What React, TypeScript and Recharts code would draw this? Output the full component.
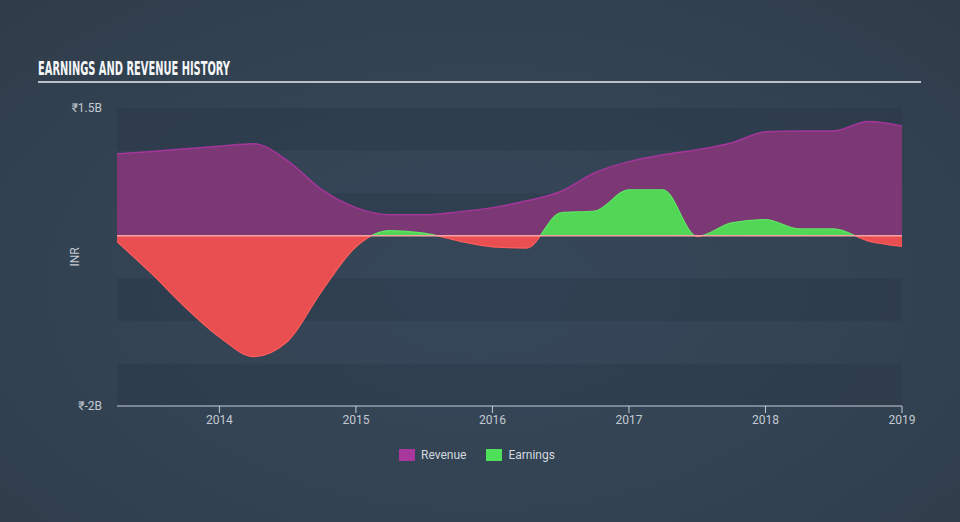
import React from 'react';
import { AreaChart, Area, XAxis, YAxis, ReferenceArea, ReferenceLine } from 'recharts';

// quarter points (fractional years), values in INR billions
const quarters = [
    2013.25, 2013.5, 2013.75, 2014.0, 2014.25, 2014.5, 2014.75, 2015.0,
    2015.25, 2015.5, 2015.75, 2016.0, 2016.25, 2016.5, 2016.75, 2017.0,
    2017.25, 2017.5, 2017.75, 2018.0, 2018.25, 2018.5, 2018.75, 2019.0
];
const revenue = [
    0.96, 0.99, 1.02, 1.05, 1.08, 0.88, 0.54, 0.33,
    0.245, 0.245, 0.28, 0.33, 0.41, 0.52, 0.74, 0.87,
    0.95, 1.01, 1.09, 1.22, 1.23, 1.23, 1.34, 1.29
];
const earnings = [
    -0.07, -0.44, -0.84, -1.19, -1.42, -1.24, -0.65, -0.13,
    0.06, 0.03, -0.06, -0.13, -0.145, 0.27, 0.29, 0.54,
    0.54, -0.01, 0.15, 0.19, 0.08, 0.08, -0.06, -0.125
];
const yearTicks = [2014, 2015, 2016, 2017, 2018, 2019];
const valueTicks = [-2, 1.5];
const darkBands = [[1, 1.5], [0, 0.5], [-1, -0.5], [-2, -1.5]];
const legendItems = [
    { name: 'Revenue', color: '#a8389b' },
    { name: 'Earnings', color: '#4fe05a' }
];

const data = quarters.map((t, i) => ({ t, revenue: revenue[i], earnings: earnings[i] }));

const eMax = Math.max(...earnings);
const eMin = Math.min(...earnings);
const zeroOffset = eMax / (eMax - eMin);

const labelColor = '#c3cad1';

export default function App() {
    return (
        <div
            style={{
                position: 'absolute',
                left: 0,
                top: 0,
                width: 960,
                height: 522,
                overflow: 'hidden',
                fontFamily: 'Roboto, "Open Sans", sans-serif',
                background: 'radial-gradient(ellipse at 50% 55%, #36475a 0%, #334353 55%, #2f3c4a 100%)'
            }}
        >
            {/* Title */}
            <svg width={960} height={90} style={{ position: 'absolute', left: 0, top: 0 }}>
                <text
                    x={38}
                    y={74.5}
                    fill="#f4f6f8"
                    fontSize={20}
                    fontWeight="bold"
                    fontFamily='"DejaVu Sans Condensed", "Liberation Sans Narrow", sans-serif'
                    textLength={192}
                    lengthAdjust="spacingAndGlyphs"
                >
                    EARNINGS AND REVENUE HISTORY
                </text>
                <line x1={38} x2={921} y1={82} y2={82} stroke="#b9c0c7" strokeWidth={2} />
            </svg>

            <div style={{ position: 'absolute', left: 0, top: 0 }}>
                <AreaChart
                    width={960}
                    height={522}
                    data={data}
                    margin={{ top: 108, right: 58, bottom: 86, left: 57 }}
                >
                    <defs>
                        <linearGradient id="earnFill" x1="0" y1="0" x2="0" y2="1">
                            <stop offset={zeroOffset} stopColor="#52d655" />
                            <stop offset={zeroOffset} stopColor="#e94f51" />
                        </linearGradient>
                        <linearGradient id="earnStroke" x1="0" y1="0" x2="0" y2="1">
                            <stop offset={zeroOffset} stopColor="#5ee464" />
                            <stop offset={zeroOffset} stopColor="#ff5c5c" />
                        </linearGradient>
                    </defs>

                    {darkBands.map(([a, b]) => (
                        <ReferenceArea
                            key={a}
                            y1={a}
                            y2={b}
                            fill="#1f2a36"
                            fillOpacity={0.2}
                            stroke="none"
                            ifOverflow="visible"
                        />
                    ))}

                    <XAxis
                        dataKey="t"
                        type="number"
                        domain={[2013.25, 2019]}
                        ticks={yearTicks}
                        height={30}
                        stroke="#c4ced8"
                        tickSize={7}
                        tickMargin={2}
                        tick={{ fill: labelColor, fontSize: 12 }}
                    />
                    <YAxis
                        type="number"
                        width={60}
                        domain={[-2, 1.5]}
                        ticks={valueTicks}
                        axisLine={false}
                        tickLine={false}
                        tickMargin={9}
                        tick={{ fill: labelColor, fontSize: 12 }}
                        tickFormatter={(v) => `₹${v}B`}
                        label={({ viewBox }) => {
                            const cx = viewBox.x + 18;
                            const cy = viewBox.y + viewBox.height / 2;
                            return (
                                <text
                                    x={cx}
                                    y={cy}
                                    transform={`rotate(-90, ${cx}, ${cy})`}
                                    textAnchor="middle"
                                    dominantBaseline="central"
                                    fill={labelColor}
                                    fontSize={12}
                                >
                                    INR
                                </text>
                            );
                        }}
                    />

                    <Area
                        type="monotone"
                        dataKey="revenue"
                        stroke="#a3369a"
                        strokeWidth={1.5}
                        fill="#7b3874"
                        fillOpacity={1}
                        isAnimationActive={false}
                    />
                    <Area
                        type="monotone"
                        dataKey="earnings"
                        stroke="url(#earnStroke)"
                        strokeWidth={1.2}
                        fill="url(#earnFill)"
                        fillOpacity={1}
                        isAnimationActive={false}
                    />
                    <ReferenceLine y={0} stroke="#f3a3a3" strokeWidth={1.5} />
                </AreaChart>
            </div>

            {/* Legend */}
            <div
                style={{
                    position: 'absolute',
                    top: 448,
                    left: 399,
                    display: 'flex',
                    alignItems: 'center',
                    gap: 20,
                    fontSize: 12,
                    color: '#d2d8de'
                }}
            >
                {legendItems.map((item) => (
                    <div key={item.name} style={{ display: 'flex', alignItems: 'center', gap: 6 }}>
                        <span style={{ width: 16, height: 12, background: item.color, display: 'inline-block' }} />
                        <span>{item.name}</span>
                    </div>
                ))}
            </div>
        </div>
    );
}
